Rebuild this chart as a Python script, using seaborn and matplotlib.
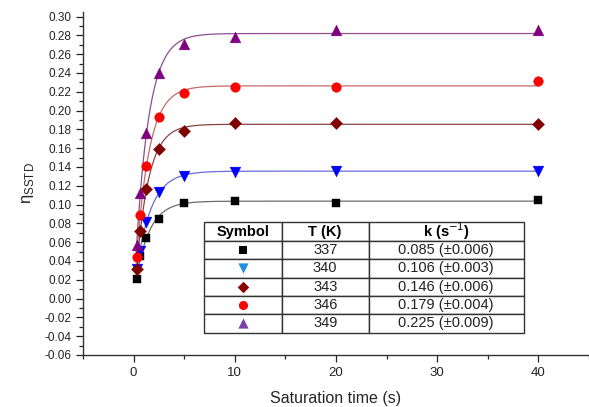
import matplotlib
matplotlib.use("Agg")
import matplotlib.pyplot as plt
import numpy as np
import pandas as pd
import seaborn as sns
from matplotlib.ticker import MultipleLocator, FormatStrFormatter

# saturation times (s) and eta_SSTD values
times = [0.3, 0.65, 1.25, 2.5, 5, 10, 20, 40]
eta_337 = [0.021, 0.045, 0.064, 0.085, 0.102, 0.104, 0.102, 0.105]
eta_340 = [0.031, 0.051, 0.081, 0.113, 0.130, 0.135, 0.136, 0.136]
eta_343 = [0.031, 0.072, 0.116, 0.159, 0.178, 0.187, 0.187, 0.186]
eta_346 = [0.044, 0.089, 0.141, 0.193, 0.219, 0.225, 0.225, 0.231]
eta_349 = [0.057, 0.112, 0.176, 0.240, 0.271, 0.278, 0.286, 0.286]

temps = ["337", "340", "343", "346", "349"]
k_text = ["0.085 (\u00b10.006)", "0.106 (\u00b10.003)", "0.146 (\u00b10.006)",
          "0.179 (\u00b10.004)", "0.225 (\u00b10.009)"]

marker_colors = ["#000000", "#0000FF", "#800000", "#FF0000", "#800080"]
line_colors = ["#6b6b6b", "#6a6ad8", "#8a4545", "#c46a6a", "#8e4e8e"]
table_colors = ["#000000", "#1f8ee0", "#8b0000", "#ff0000", "#7b3fa6"]
markers = ["s", "v", "D", "o", "^"]
msizes = [38, 60, 38, 48, 60]

series = [eta_337, eta_340, eta_343, eta_346, eta_349]

sns.set_style("ticks")
plt.rcParams["font.family"] = ["Liberation Sans", "DejaVu Sans"]

fig = plt.figure(figsize=(5.89, 4.07), dpi=100)
ax = fig.add_axes([0.141, 0.128, 0.859, 0.843])

t = np.array(times)
for vals, T, mc, lc, mk, ms in zip(series, temps, marker_colors, line_colors, markers, msizes):
    y = np.array(vals)
    # simple exponential fit y = a - b*exp(-k t)
    best = None
    for k in np.linspace(0.05, 3, 1200):
        A = np.column_stack([np.ones_like(t), -np.exp(-k * t)])
        coef, res, _, _ = np.linalg.lstsq(A, y, rcond=None)
        err = np.sum((A @ coef - y) ** 2)
        if best is None or err < best[0]:
            best = (err, k, coef)
    _, k, (a, b) = best
    tt = np.linspace(0.25, 40, 400)
    fit = pd.DataFrame({"t": tt, "eta": a - b * np.exp(-k * tt)})
    sns.lineplot(data=fit, x="t", y="eta", color=lc, lw=0.9, ax=ax, zorder=2)
    df = pd.DataFrame({"t": times, "eta": vals})
    sns.scatterplot(data=df, x="t", y="eta", color=mc, marker=mk, s=ms,
                    edgecolor=mc, linewidth=0.3, ax=ax, zorder=3)

ax.set_xlim(-5, 45)
ax.set_ylim(-0.06, 0.305)
ax.xaxis.set_major_locator(MultipleLocator(10))
ax.xaxis.set_minor_locator(MultipleLocator(5))
ax.yaxis.set_major_locator(MultipleLocator(0.02))
ax.yaxis.set_minor_locator(MultipleLocator(0.01))
ax.yaxis.set_major_formatter(FormatStrFormatter("%.2f"))
ax.tick_params(which="major", direction="out", length=5, width=0.9, labelsize=8.5, colors="#222222")
ax.tick_params(which="minor", direction="out", length=3, width=0.9)
ax.tick_params(axis="x", labelsize=9.5)
for s in ("left", "bottom"):
    ax.spines[s].set_linewidth(1.0)
    ax.spines[s].set_color("#333333")
sns.despine(ax=ax)

ax.set_xlabel("Saturation time (s)", fontsize=11.5, labelpad=9)
ax.set_ylabel("\u03b7$_{\\mathregular{SSTD}}$", fontsize=12, labelpad=6)

# parameter table
bx, by, bw, bh = 0.239, 0.065, 0.632, 0.321
cells = [["", T, kt] for T, kt in zip(temps, k_text)]
tab = ax.table(cellText=cells, colLabels=["Symbol", "T (K)", "k (s$^{-1}$)"],
               cellLoc="center", bbox=[bx, by, bw, bh],
               colWidths=[0.243, 0.272, 0.485])
tab.auto_set_font_size(False)
tab.set_fontsize(10.5)
tab.set_zorder(5)
for (r, c), cell in tab.get_celld().items():
    cell.set_edgecolor("#333333")
    cell.set_linewidth(1.0)
    cell.set_facecolor("white")
    cell.get_text().set_color("#222222")
    if r == 0:
        cell.get_text().set_fontweight("bold")
        cell.get_text().set_color("black")

row_h = bh / 6
sym_x = bx + bw * 0.243 / 2
for i, (mk, tc) in enumerate(zip(markers, table_colors)):
    yc = by + bh - row_h * (i + 1.5)
    ax.scatter([sym_x], [yc], marker=mk, s=msizes[i] * 0.9, color=tc,
               transform=ax.transAxes, zorder=10, clip_on=False, linewidths=0)

fig.savefig("out.png", dpi=100)
